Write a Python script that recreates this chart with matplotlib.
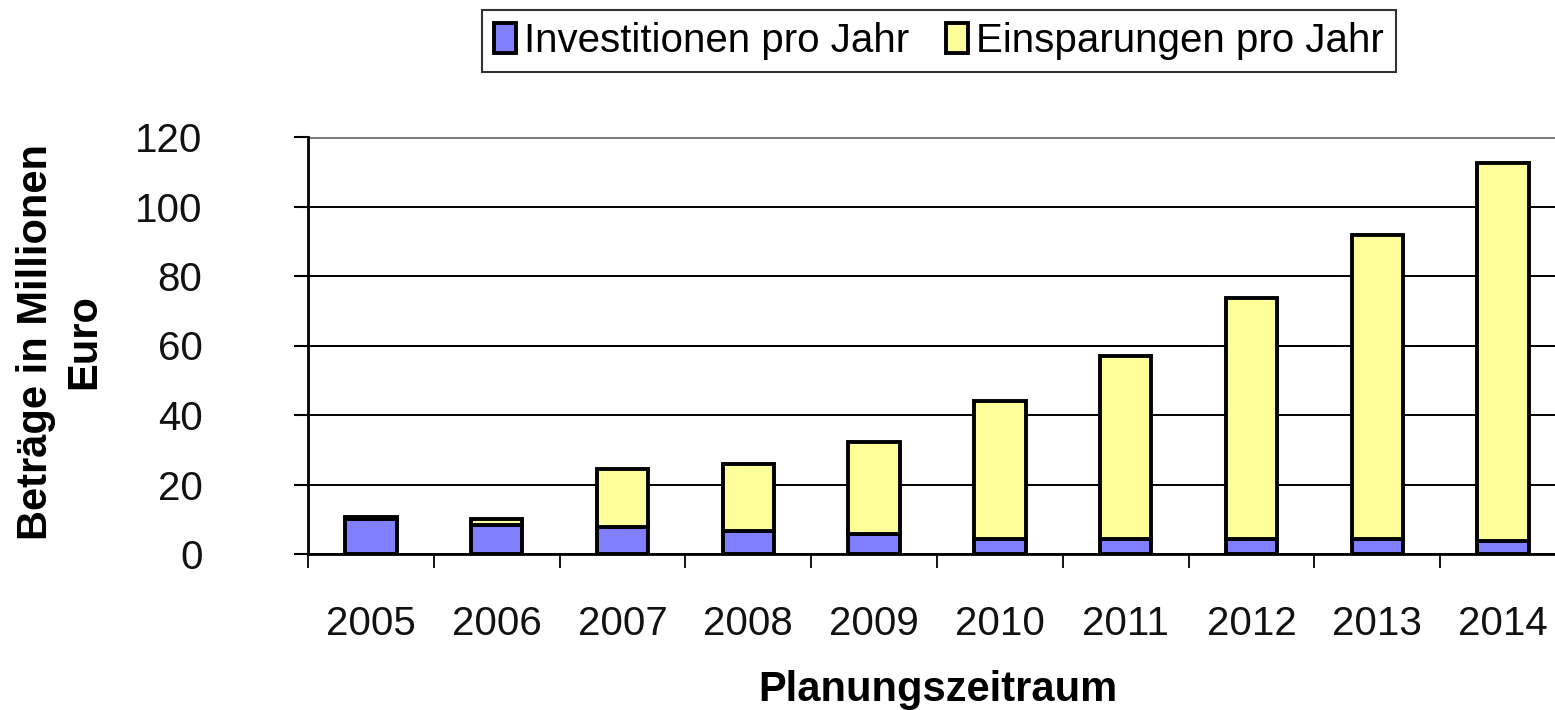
import matplotlib
matplotlib.use("Agg")
import matplotlib.pyplot as plt
import numpy as np

years = ["2005", "2006", "2007", "2008", "2009", "2010", "2011", "2012", "2013", "2014"]
investitionen = [10.2, 8.3, 7.9, 6.7, 5.7, 4.3, 4.3, 4.3, 4.3, 3.8]
einsparungen = [0.5, 1.8, 16.6, 19.2, 26.4, 39.6, 52.7, 69.3, 87.4, 108.6]
yticks = [0, 20, 40, 60, 80, 100, 120]

plt.rcParams['font.family'] = ['Liberation Sans', 'DejaVu Sans']

W, H = 1555, 710
fig = plt.figure(figsize=(W / 100, H / 100), dpi=100)
ax = fig.add_axes([308 / W, 1 - 554 / H, (1566 - 308) / W, (554 - 137) / H])

x = np.arange(len(years))
bw = 0.41
lw = 2.8
b1 = ax.bar(x, investitionen, bw, color="#8080FF", edgecolor="black", linewidth=lw,
            label="Investitionen pro Jahr", zorder=3)
b2 = ax.bar(x, einsparungen, bw, bottom=investitionen, color="#FFFF99", edgecolor="black",
            linewidth=lw, label="Einsparungen pro Jahr", zorder=3)

ax.set_xlim(-0.5, len(years) - 0.5)
ax.set_ylim(0, 120)
ax.set_yticks(yticks)
ax.set_yticklabels([str(v) for v in yticks])
ax.set_xticks(x)
ax.set_xticklabels(years)
ax.set_xticks(np.arange(-0.5, len(years) + 0.5, 1.0), minor=True)

ax.tick_params(axis="x", which="major", length=0, pad=37, labelsize=29, labelcolor="#111111")
ax.tick_params(axis="x", which="minor", length=10, width=1.3, direction="out")
ax.tick_params(axis="y", which="major", length=10, width=1.5, direction="out", pad=66, labelsize=29,
               labelcolor="#111111")

ax.yaxis.grid(True, color="black", linewidth=1.4, zorder=0)
ax.set_axisbelow(True)
gl = ax.get_ygridlines()
gl[-1].set_color("#808080")
gl[-1].set_linewidth(2.2)

for s in ["top", "right"]:
    ax.spines[s].set_visible(False)
ax.spines["left"].set_linewidth(2.0)
ax.spines["bottom"].set_linewidth(2.0)

fig.text(60 / W, 1 - 342 / H, "Beträge in Millionen\nEuro", rotation=90, ha="center", va="center",
         fontsize=30, fontweight="bold", multialignment="center", linespacing=1.25)
fig.text(938 / W, 1 - 690 / H, "Planungszeitraum", ha="center", va="center",
         fontsize=30, fontweight="bold")

leg = fig.legend(handles=[b1, b2], loc="center", bbox_to_anchor=(939 / W, 1 - 41 / H), ncol=2,
                 fontsize=29, frameon=True, fancybox=False, edgecolor="black",
                 handlelength=0.55, handleheight=0.8, handletextpad=0.2, columnspacing=0.9,
                 borderpad=0.3, borderaxespad=0)
leg.get_frame().set_linewidth(1.5)

fig.savefig("out.png", dpi=100)
